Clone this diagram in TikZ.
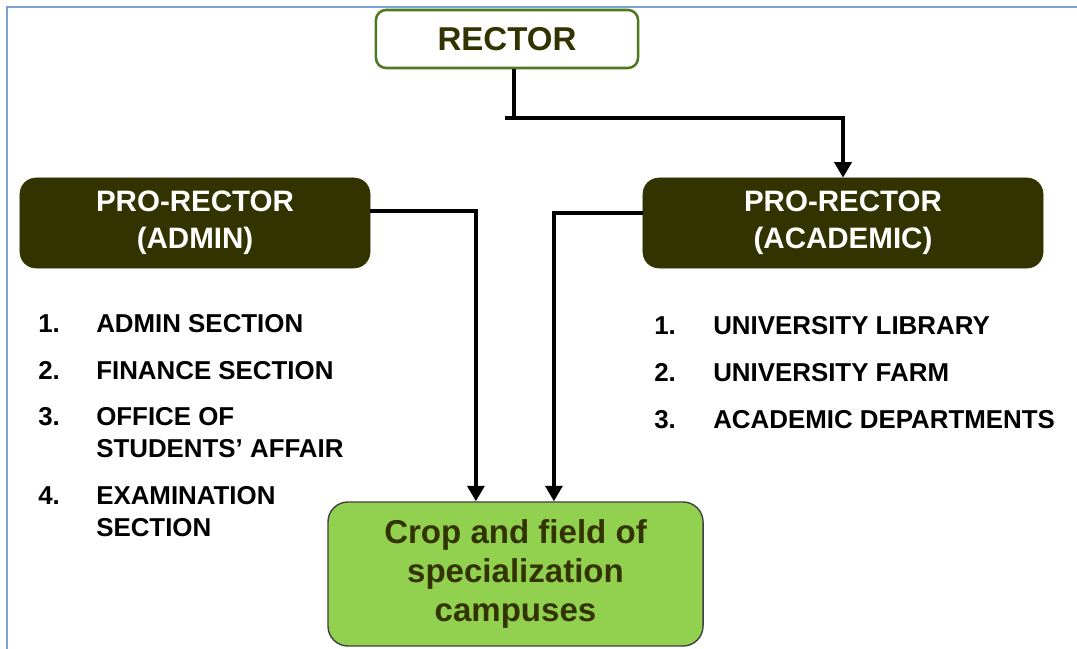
\documentclass[tikz,border=0pt]{standalone}
\usepackage{fontspec}
\setmainfont{Liberation Sans}
\usepackage{tikz}
\usetikzlibrary{arrows.meta}

\definecolor{darkolive}{HTML}{333300}
\definecolor{rectorgreen}{HTML}{4E7A1E}
\definecolor{cropgreen}{HTML}{92D050}
\definecolor{frameblue}{HTML}{7BA3D8}

\begin{document}
\begin{tikzpicture}[x=0.025cm,y=-0.025cm,
	link/.style={line width=2.6pt},
	arr/.style={line width=2.6pt,-{Triangle[width=12pt,length=11pt]}},
	headbox/.style={fill=darkolive,draw=darkolive,rounded corners=0.4cm,minimum height=2.25cm,text=white,align=center,font=\fontsize{21}{26.5}\selectfont\bfseries},
	item/.style={anchor=base west,inner sep=0pt,align=left,font=\fontsize{18.4}{22.7}\selectfont\bfseries}]
	
	\useasboundingbox (0,0) rectangle (1077,649);
	\draw[frameblue,line width=1.2pt] (7,649) -- (7,7) -- (1077,7);
	
	\node[draw=rectorgreen,line width=1.8pt,rounded corners=0.25cm,fill=white,minimum width=6.55cm,minimum height=1.45cm,text=darkolive,font=\fontsize{23.5}{28}\selectfont\bfseries] (rector) at (507,39) {RECTOR};
	\node[headbox,minimum width=8.75cm] (admin) at (195,223) {PRO-RECTOR\\(ADMIN)};
	\node[headbox,minimum width=10cm] (acad) at (843,223) {PRO-RECTOR\\(ACADEMIC)};
	\node[fill=cropgreen,draw=black!75,line width=1pt,rounded corners=0.5cm,minimum width=9.375cm,minimum height=3.6cm,text=darkolive,align=center,font=\fontsize{23.5}{27.8}\selectfont\bfseries] (crop) at (515.5,574) {Crop and field of\\specialization\\campuses};
	
	\node[item] (n1) at (38,332) {1.};
	\node[item] (admsec) at (96,332) {ADMIN SECTION};
	\node[item] (n2) at (38,379) {2.};
	\node[item] (finsec) at (96,379) {FINANCE SECTION};
	\node[item] (n3) at (38,425) {3.};
	\node[item] (office) at (96,457) {OFFICE OF\\STUDENTS’ AFFAIR};
	\node[item] (n4) at (38,504) {4.};
	\node[item] (exam) at (96,536) {EXAMINATION\\SECTION};
	
	\node[item] (m1) at (654,334) {1.};
	\node[item] (library) at (713,334) {UNIVERSITY LIBRARY};
	\node[item] (m2) at (654,381) {2.};
	\node[item] (farm) at (713,381) {UNIVERSITY FARM};
	\node[item] (m3) at (654,428) {3.};
	\node[item] (depts) at (713,428) {ACADEMIC DEPARTMENTS};
	
	\coordinate (tee) at (505,118);
	\draw[link] ([xshift=0.175cm]rector.south) -- ([xshift=0.175cm]rector.south |- tee);
	\draw[arr] (tee) -| (acad.north);
	\draw[arr] ([yshift=0.3cm]admin.east) -| ([xshift=-0.99cm]crop.north);
	\draw[arr] ([yshift=0.25cm]acad.west) -| ([xshift=0.96cm]crop.north);
	
\end{tikzpicture}
\end{document}
